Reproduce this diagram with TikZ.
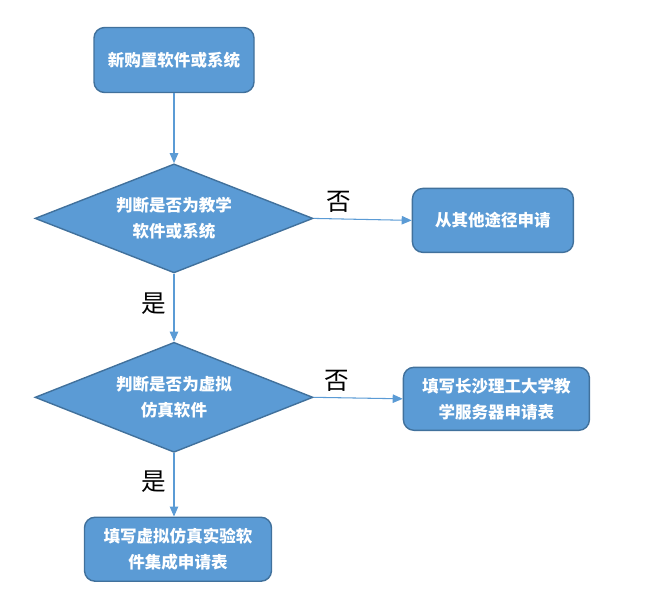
\documentclass[tikz,border=0pt]{standalone}
\usepackage{fontspec}
\setmainfont{Noto Sans CJK SC}
\usetikzlibrary{arrows.meta,positioning,shapes.geometric}
\definecolor{boxblue}{HTML}{5B9BD5}
\definecolor{boxedge}{HTML}{41719C}

\begin{document}
\begin{tikzpicture}[>={Triangle[length=2mm,width=1.7mm]},node distance=1.4cm]
  \useasboundingbox (0,0) rectangle (12.92,-12.06);
  \tikzstyle{box}=[draw=boxedge,fill=boxblue,line width=0.8pt,rounded corners=6pt,minimum height=1.28cm,align=center,text=white,font=\fontsize{9.4}{14.7}\selectfont\bfseries]
  \tikzstyle{ask}=[diamond,aspect=2.55,draw=boxedge,fill=boxblue,line width=0.8pt,minimum width=5.56cm,minimum height=2.18cm,inner sep=0pt,align=center,text=white,font=\fontsize{9.4}{14.7}\selectfont\bfseries]
  \tikzstyle{lbl}=[font=\fontsize{14}{16}\selectfont,text=black]
  \tikzstyle{link}=[draw=boxblue,line width=0.6pt,->]
  \node[box,minimum width=3.2cm,minimum height=1.3cm] (buy) at (3.48,-1.2) {新购置软件或系统};
  \node[ask,below=of buy] (teach) {判断是否为教学\\软件或系统};
  \node[box,minimum width=3.22cm,right=1.96cm of teach,yshift=-0.04cm] (other) {从其他途径申请};
  \node[ask,minimum height=2.2cm,below=1.36cm of teach] (virt) {判断是否为虚拟\\仿真软件};
  \node[box,minimum width=3.72cm,minimum height=1.26cm,right=1.78cm of virt,yshift=-0.03cm] (server) {填写长沙理工大学教\\学服务器申请表};
  \node[box,minimum width=3.74cm,below=1.27cm of virt,xshift=0.08cm] (form) {填写虚拟仿真实验软\\件集成申请表};
  \draw[link] (buy) -- (teach);
  \draw[link] (teach.east) -- node[lbl,pos=0.26,above=0pt] (no1) {否} (other.west);
  \draw[link] (teach.south) -- node[lbl,pos=0.44,left=1pt] (yes1) {是} (virt.north);
  \draw[link] (virt.east) -- node[lbl,pos=0.26,above=0pt] (no2) {否} (server.west);
  \draw[link] (virt.south) -- node[lbl,pos=0.45,left=1pt] (yes2) {是} (virt.south |- form.north);
\end{tikzpicture}
\end{document}
